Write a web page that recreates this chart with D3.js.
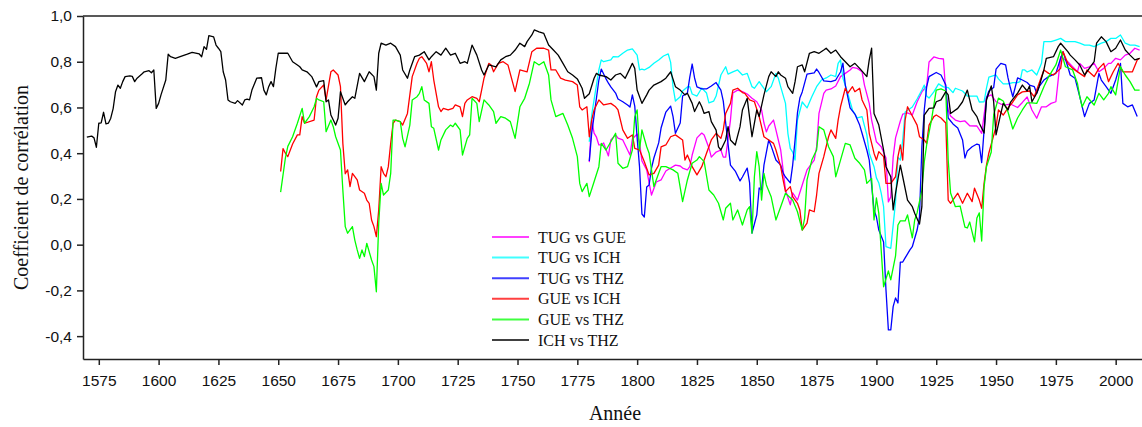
<!DOCTYPE html>
<html>
<head>
<meta charset="utf-8">
<script src="https://cdn.jsdelivr.net/npm/d3@7"></script>
<style>
  body { margin: 0; background: #fff; }
  svg { display: block; }
</style>
</head>
<body>
<svg id="chart" width="1142" height="427"></svg>
<script>
// tick values
const xTicks = [1575, 1600, 1625, 1650, 1675, 1700, 1725, 1750, 1775, 1800, 1825, 1850, 1875, 1900, 1925, 1950, 1975, 2000];
const yTicks = [-0.4, -0.2, 0.0, 0.2, 0.4, 0.6, 0.8, 1.0];

// series: [year, correlation]
const tugGue = [[1780,0.361],[1781,0.545],[1782,0.488],[1783,0.47],[1784,0.436],[1785,0.436],[1786,0.445],[1788,0.388],[1789,0.458],[1791,0.48],[1792,0.466],[1794,0.458],[1796,0.414],[1797,0.392],[1798,0.462],[1800,0.484],[1801,0.445],[1802,0.366],[1804,0.327],[1805,0.27],[1806,0.217],[1808,0.274],[1810,0.283],[1812,0.322],[1814,0.335],[1816,0.348],[1818,0.344],[1819,0.335],[1821,0.327],[1822,0.341],[1823,0.392],[1825,0.467],[1827,0.488],[1828,0.48],[1830,0.423],[1831,0.383],[1833,0.405],[1835,0.414],[1836,0.383],[1837,0.383],[1839,0.545],[1840,0.663],[1842,0.676],[1844,0.669],[1846,0.659],[1848,0.64],[1850,0.625],[1852,0.589],[1853,0.532],[1854,0.493],[1855,0.519],[1857,0.545],[1858,0.502],[1860,0.414],[1861,0.327],[1862,0.239],[1864,0.174],[1865,0.226],[1867,0.195],[1869,0.261],[1871,0.327],[1874,0.37],[1875,0.428],[1876,0.574],[1878,0.662],[1879,0.676],[1881,0.681],[1883,0.694],[1885,0.735],[1887,0.749],[1889,0.764],[1890,0.775],[1892,0.771],[1894,0.756],[1895,0.698],[1897,0.618],[1898,0.545],[1900,0.45],[1902,0.428],[1904,0.379],[1905,0.187],[1906,0.209],[1907,0.383],[1908,0.467],[1910,0.541],[1911,0.571],[1913,0.576],[1915,0.567],[1917,0.624],[1919,0.668],[1921,0.694],[1922,0.799],[1924,0.821],[1926,0.815],[1928,0.812],[1929,0.663],[1930,0.589],[1931,0.563],[1933,0.545],[1935,0.538],[1937,0.541],[1939,0.52],[1942,0.519],[1944,0.487],[1946,0.646],[1948,0.655],[1950,0.625],[1952,0.615],[1954,0.611],[1956,0.615],[1959,0.6],[1961,0.622],[1963,0.646],[1965,0.589],[1967,0.553],[1969,0.603],[1971,0.603],[1973,0.618],[1975,0.625],[1977,0.822],[1980,0.8],[1982,0.778],[1984,0.756],[1985,0.793],[1987,0.771],[1989,0.778],[1991,0.793],[1993,0.756],[1995,0.771],[1997,0.793],[1998,0.793],[2000,0.815],[2002,0.808],[2004,0.829],[2006,0.837],[2008,0.859],[2010,0.851]];

const tugIch = [[1780,0.45],[1781,0.567],[1782,0.633],[1784,0.764],[1785,0.808],[1786,0.8],[1789,0.808],[1790,0.822],[1792,0.821],[1794,0.837],[1796,0.851],[1798,0.856],[1800,0.829],[1801,0.764],[1802,0.768],[1803,0.764],[1805,0.775],[1807,0.793],[1809,0.808],[1811,0.825],[1813,0.834],[1814,0.797],[1815,0.69],[1816,0.628],[1818,0.647],[1819,0.672],[1821,0.69],[1822,0.691],[1823,0.659],[1825,0.65],[1827,0.685],[1829,0.663],[1830,0.62],[1832,0.628],[1833,0.65],[1835,0.742],[1837,0.778],[1838,0.746],[1840,0.756],[1842,0.764],[1844,0.742],[1846,0.749],[1848,0.691],[1849,0.684],[1851,0.713],[1852,0.698],[1854,0.669],[1856,0.691],[1858,0.749],[1859,0.728],[1860,0.69],[1862,0.618],[1863,0.487],[1864,0.421],[1865,0.405],[1866,0.37],[1867,0.545],[1869,0.624],[1871,0.598],[1873,0.647],[1875,0.691],[1877,0.72],[1879,0.729],[1881,0.742],[1883,0.735],[1884,0.793],[1885,0.808],[1886,0.729],[1888,0.663],[1890,0.589],[1892,0.554],[1894,0.56],[1896,0.48],[1897,0.4],[1899,0.341],[1900,0.292],[1901,0.27],[1902,0.225],[1903,0.166],[1904,-0.009],[1906,-0.016],[1908,0.187],[1909,0.383],[1910,0.37],[1911,0.458],[1912,0.58],[1915,0.602],[1917,0.637],[1919,0.676],[1920,0.698],[1921,0.65],[1922,0.641],[1924,0.668],[1926,0.703],[1928,0.69],[1930,0.687],[1932,0.665],[1933,0.684],[1936,0.672],[1938,0.65],[1940,0.65],[1942,0.65],[1943,0.624],[1945,0.625],[1946,0.685],[1947,0.733],[1950,0.742],[1951,0.725],[1953,0.703],[1955,0.703],[1957,0.709],[1959,0.709],[1960,0.713],[1961,0.764],[1962,0.764],[1963,0.755],[1965,0.764],[1967,0.742],[1969,0.793],[1970,0.888],[1973,0.888],[1975,0.895],[1977,0.902],[1979,0.888],[1981,0.888],[1983,0.888],[1985,0.881],[1987,0.873],[1989,0.873],[1991,0.866],[1994,0.881],[1996,0.888],[1998,0.902],[2000,0.902],[2002,0.917],[2004,0.881],[2006,0.873],[2008,0.873],[2010,0.866]];

const tugThz = [[1780,0.366],[1781,0.488],[1782,0.563],[1784,0.72],[1785,0.768],[1786,0.746],[1787,0.725],[1788,0.706],[1789,0.69],[1791,0.663],[1792,0.637],[1794,0.625],[1796,0.611],[1797,0.602],[1798,0.655],[1799,0.606],[1800,0.467],[1801,0.34],[1802,0.134],[1803,0.121],[1804,0.252],[1805,0.261],[1806,0.335],[1807,0.379],[1809,0.445],[1810,0.51],[1812,0.58],[1814,0.606],[1815,0.56],[1816,0.487],[1818,0.532],[1819,0.65],[1821,0.663],[1822,0.733],[1823,0.79],[1824,0.729],[1825,0.69],[1827,0.681],[1829,0.681],[1831,0.694],[1833,0.709],[1835,0.676],[1836,0.628],[1837,0.532],[1839,0.348],[1841,0.322],[1843,0.279],[1844,0.296],[1846,0.335],[1847,0.27],[1848,0.051],[1850,0.13],[1851,0.248],[1852,0.239],[1853,0.348],[1855,0.458],[1856,0.432],[1858,0.37],[1860,0.348],[1861,0.313],[1862,0.296],[1864,0.27],[1865,0.348],[1866,0.458],[1867,0.576],[1868,0.641],[1869,0.668],[1871,0.746],[1874,0.751],[1875,0.768],[1876,0.753],[1878,0.716],[1881,0.713],[1883,0.72],[1885,0.755],[1886,0.794],[1887,0.698],[1889,0.598],[1891,0.571],[1893,0.523],[1894,0.487],[1896,0.414],[1897,0.37],[1899,0.152],[1900,0.121],[1901,0.064],[1903,0.012],[1904,-0.198],[1905,-0.373],[1906,-0.373],[1907,-0.271],[1908,-0.233],[1909,-0.255],[1910,-0.076],[1911,-0.076],[1912,-0.058],[1914,-0.023],[1915,-0.009],[1917,0.064],[1918,0.122],[1919,0.428],[1920,0.589],[1921,0.69],[1922,0.735],[1925,0.753],[1927,0.742],[1929,0.698],[1930,0.554],[1932,0.528],[1934,0.51],[1936,0.458],[1937,0.379],[1938,0.41],[1940,0.428],[1942,0.44],[1943,0.436],[1944,0.359],[1946,0.641],[1947,0.672],[1949,0.687],[1950,0.768],[1952,0.793],[1954,0.786],[1955,0.729],[1956,0.685],[1957,0.647],[1959,0.729],[1961,0.72],[1963,0.709],[1964,0.698],[1966,0.691],[1967,0.662],[1968,0.691],[1970,0.72],[1972,0.735],[1975,0.749],[1977,0.815],[1978,0.844],[1980,0.778],[1981,0.742],[1983,0.728],[1985,0.647],[1987,0.56],[1989,0.618],[1991,0.633],[1993,0.749],[1994,0.72],[1996,0.691],[1998,0.662],[2000,0.72],[2002,0.793],[2003,0.618],[2005,0.603],[2007,0.611],[2009,0.56]];

const gueIch = [[1651,0.32],[1652,0.42],[1653,0.40],[1654,0.385],[1656,0.44],[1658,0.48],[1659,0.48],[1660,0.56],[1661,0.531],[1665,0.545],[1666,0.647],[1667,0.676],[1669,0.698],[1670,0.633],[1672,0.756],[1673,0.764],[1675,0.742],[1676,0.691],[1677,0.443],[1678,0.31],[1679,0.327],[1680,0.254],[1681,0.312],[1683,0.283],[1684,0.239],[1686,0.225],[1687,0.195],[1688,0.181],[1689,0.108],[1690,0.079],[1691,0.035],[1692,0.152],[1693,0.341],[1694,0.312],[1695,0.297],[1696,0.341],[1697,0.443],[1698,0.531],[1699,0.545],[1701,0.538],[1702,0.523],[1704,0.574],[1705,0.655],[1706,0.735],[1708,0.793],[1709,0.815],[1710,0.822],[1712,0.793],[1713,0.756],[1714,0.8],[1715,0.72],[1717,0.603],[1718,0.582],[1719,0.596],[1721,0.589],[1723,0.596],[1724,0.611],[1726,0.603],[1727,0.56],[1728,0.618],[1729,0.633],[1731,0.647],[1733,0.64],[1734,0.625],[1735,0.676],[1736,0.728],[1738,0.793],[1739,0.786],[1740,0.756],[1742,0.793],[1744,0.8],[1746,0.786],[1749,0.669],[1751,0.764],[1754,0.756],[1756,0.844],[1758,0.859],[1761,0.859],[1763,0.851],[1764,0.764],[1766,0.764],[1768,0.728],[1770,0.72],[1773,0.713],[1775,0.698],[1776,0.603],[1777,0.589],[1779,0.603],[1780,0.472],[1781,0.545],[1782,0.589],[1784,0.633],[1786,0.611],[1789,0.618],[1791,0.603],[1792,0.589],[1794,0.502],[1796,0.465],[1798,0.48],[1799,0.421],[1801,0.414],[1803,0.363],[1805,0.305],[1807,0.312],[1809,0.348],[1810,0.428],[1812,0.436],[1814,0.472],[1816,0.48],[1819,0.458],[1820,0.37],[1821,0.392],[1823,0.341],[1825,0.305],[1827,0.341],[1829,0.4],[1831,0.458],[1833,0.487],[1835,0.465],[1836,0.502],[1837,0.574],[1839,0.618],[1840,0.676],[1842,0.684],[1844,0.665],[1845,0.662],[1847,0.633],[1849,0.625],[1851,0.56],[1852,0.516],[1853,0.472],[1855,0.458],[1857,0.443],[1858,0.414],[1860,0.341],[1861,0.283],[1862,0.232],[1864,0.254],[1865,0.21],[1867,0.181],[1868,0.152],[1869,0.064],[1871,0.094],[1872,0.152],[1874,0.144],[1875,0.217],[1876,0.312],[1878,0.385],[1880,0.472],[1881,0.502],[1883,0.465],[1884,0.545],[1885,0.603],[1887,0.684],[1888,0.662],[1890,0.691],[1891,0.669],[1893,0.684],[1894,0.633],[1896,0.589],[1897,0.487],[1899,0.4],[1900,0.37],[1901,0.407],[1903,0.385],[1904,0.268],[1906,0.268],[1908,0.297],[1909,0.385],[1910,0.436],[1911,0.37],[1912,0.545],[1913,0.603],[1915,0.563],[1917,0.523],[1918,0.472],[1920,0.458],[1921,0.443],[1922,0.523],[1924,0.56],[1925,0.567],[1927,0.554],[1929,0.532],[1930,0.195],[1931,0.181],[1934,0.225],[1936,0.181],[1938,0.225],[1940,0.188],[1941,0.247],[1943,0.195],[1944,0.159],[1945,0.268],[1946,0.348],[1947,0.401],[1950,0.516],[1951,0.589],[1953,0.567],[1955,0.598],[1957,0.624],[1959,0.655],[1961,0.668],[1964,0.672],[1966,0.647],[1968,0.706],[1970,0.764],[1972,0.749],[1974,0.742],[1977,0.771],[1978,0.844],[1980,0.793],[1982,0.771],[1985,0.749],[1987,0.735],[1988,0.764],[1991,0.735],[1993,0.771],[1995,0.793],[1997,0.713],[1999,0.756],[2001,0.793],[2003,0.756],[2005,0.756],[2007,0.756],[2009,0.808],[2010,0.815]];

const gueThz = [[1651,0.23],[1653,0.38],[1654,0.43],[1656,0.472],[1658,0.531],[1660,0.596],[1661,0.531],[1663,0.56],[1665,0.603],[1666,0.64],[1667,0.633],[1669,0.625],[1670,0.494],[1672,0.545],[1673,0.516],[1674,0.472],[1676,0.414],[1677,0.239],[1678,0.079],[1679,0.05],[1681,0.079],[1682,0.02],[1683,-0.023],[1684,-0.06],[1685,-0.023],[1686,-0.052],[1687,0.006],[1689,-0.067],[1690,-0.096],[1691,-0.206],[1692,0.094],[1693,0.268],[1694,0.217],[1696,0.239],[1697,0.312],[1698,0.545],[1699,0.545],[1701,0.538],[1702,0.465],[1703,0.428],[1705,0.523],[1706,0.633],[1708,0.647],[1709,0.662],[1710,0.691],[1711,0.633],[1713,0.618],[1714,0.516],[1715,0.509],[1717,0.414],[1718,0.458],[1720,0.502],[1722,0.523],[1723,0.516],[1724,0.531],[1726,0.502],[1727,0.392],[1729,0.465],[1730,0.48],[1731,0.64],[1733,0.618],[1734,0.538],[1736,0.633],[1738,0.611],[1740,0.582],[1741,0.531],[1743,0.56],[1745,0.553],[1747,0.538],[1749,0.465],[1751,0.603],[1753,0.64],[1755,0.706],[1757,0.8],[1759,0.786],[1761,0.8],[1763,0.742],[1764,0.633],[1766,0.56],[1769,0.574],[1771,0.523],[1773,0.465],[1775,0.385],[1776,0.268],[1777,0.232],[1779,0.268],[1780,0.21],[1782,0.275],[1784,0.341],[1785,0.443],[1787,0.414],[1789,0.45],[1791,0.487],[1792,0.356],[1794,0.334],[1796,0.341],[1798,0.414],[1799,0.56],[1800,0.589],[1801,0.414],[1802,0.502],[1804,0.428],[1805,0.4],[1807,0.254],[1809,0.312],[1810,0.341],[1812,0.341],[1815,0.327],[1817,0.312],[1819,0.188],[1821,0.283],[1823,0.356],[1825,0.37],[1826,0.385],[1828,0.363],[1830,0.239],[1832,0.217],[1834,0.181],[1836,0.108],[1837,0.159],[1839,0.181],[1840,0.108],[1842,0.152],[1844,0.086],[1846,0.152],[1847,0.166],[1848,0.05],[1849,0.297],[1850,0.407],[1851,0.341],[1852,0.195],[1853,0.312],[1854,0.261],[1856,0.21],[1858,0.108],[1860,0.166],[1862,0.225],[1865,0.195],[1867,0.144],[1869,0.064],[1870,0.115],[1871,0.283],[1873,0.37],[1875,0.414],[1876,0.516],[1878,0.502],[1880,0.428],[1882,0.385],[1883,0.297],[1885,0.37],[1887,0.443],[1889,0.436],[1891,0.378],[1893,0.356],[1895,0.327],[1896,0.268],[1898,0.29],[1899,0.108],[1900,0.204],[1901,0.137],[1903,-0.184],[1905,-0.115],[1906,-0.154],[1908,-0.049],[1909,0.086],[1910,0.104],[1912,0.104],[1913,0.13],[1915,0.03],[1916,0.108],[1917,0.139],[1919,0.239],[1920,0.362],[1921,0.436],[1923,0.545],[1925,0.676],[1927,0.681],[1929,0.672],[1930,0.37],[1931,0.226],[1933,0.166],[1935,0.169],[1937,0.077],[1938,0.073],[1939,0.099],[1941,0.012],[1942,0.117],[1943,0.139],[1944,0.016],[1945,0.252],[1946,0.341],[1948,0.405],[1949,0.567],[1951,0.641],[1953,0.628],[1955,0.58],[1957,0.506],[1959,0.554],[1961,0.589],[1963,0.62],[1965,0.62],[1967,0.618],[1968,0.64],[1970,0.691],[1972,0.735],[1975,0.786],[1977,0.851],[1979,0.778],[1982,0.764],[1984,0.706],[1985,0.647],[1986,0.603],[1988,0.647],[1991,0.611],[1993,0.662],[1995,0.633],[1997,0.662],[1998,0.691],[2000,0.655],[2002,0.778],[2004,0.742],[2006,0.713],[2008,0.676],[2010,0.676]];

const ichThz = [[1570,0.47],[1572,0.475],[1573,0.467],[1574,0.426],[1575,0.531],[1576,0.533],[1577,0.579],[1578,0.528],[1579,0.531],[1580,0.553],[1581,0.595],[1582,0.669],[1583,0.698],[1584,0.684],[1585,0.713],[1586,0.735],[1588,0.738],[1589,0.736],[1590,0.713],[1591,0.728],[1593,0.746],[1594,0.756],[1596,0.761],[1597,0.752],[1598,0.764],[1599,0.596],[1600,0.618],[1601,0.655],[1603,0.72],[1604,0.833],[1605,0.822],[1607,0.815],[1609,0.822],[1612,0.833],[1614,0.841],[1617,0.834],[1618,0.822],[1619,0.866],[1620,0.854],[1621,0.914],[1623,0.909],[1624,0.873],[1625,0.859],[1626,0.844],[1627,0.756],[1628,0.72],[1629,0.633],[1630,0.625],[1632,0.618],[1633,0.63],[1635,0.611],[1636,0.633],[1637,0.636],[1638,0.633],[1639,0.676],[1641,0.728],[1643,0.73],[1644,0.676],[1645,0.655],[1646,0.691],[1647,0.713],[1648,0.691],[1649,0.771],[1650,0.837],[1652,0.837],[1654,0.837],[1656,0.8],[1658,0.786],[1659,0.778],[1660,0.764],[1662,0.756],[1664,0.735],[1666,0.69],[1667,0.713],[1669,0.717],[1670,0.625],[1671,0.633],[1672,0.567],[1674,0.523],[1675,0.553],[1676,0.669],[1678,0.611],[1679,0.625],[1681,0.647],[1682,0.64],[1684,0.749],[1686,0.713],[1688,0.756],[1690,0.735],[1691,0.676],[1692,0.837],[1693,0.881],[1695,0.873],[1697,0.881],[1699,0.866],[1701,0.829],[1702,0.764],[1704,0.728],[1705,0.764],[1707,0.822],[1709,0.829],[1711,0.844],[1713,0.808],[1714,0.822],[1716,0.844],[1718,0.829],[1720,0.859],[1722,0.829],[1724,0.837],[1726,0.793],[1728,0.8],[1729,0.793],[1731,0.873],[1733,0.829],[1735,0.764],[1736,0.742],[1738,0.786],[1741,0.778],[1743,0.808],[1745,0.822],[1747,0.829],[1749,0.851],[1751,0.881],[1753,0.866],[1754,0.888],[1756,0.917],[1757,0.939],[1759,0.931],[1761,0.924],[1763,0.873],[1765,0.851],[1767,0.829],[1769,0.793],[1771,0.756],[1773,0.742],[1775,0.725],[1777,0.684],[1778,0.64],[1780,0.66],[1782,0.728],[1783,0.749],[1784,0.742],[1787,0.735],[1789,0.72],[1791,0.742],[1793,0.749],[1795,0.728],[1797,0.771],[1798,0.793],[1799,0.771],[1800,0.676],[1802,0.618],[1804,0.655],[1805,0.676],[1807,0.698],[1810,0.713],[1812,0.728],[1813,0.742],[1814,0.756],[1816,0.691],[1818,0.676],[1820,0.655],[1821,0.662],[1823,0.618],[1824,0.582],[1826,0.625],[1827,0.603],[1828,0.574],[1830,0.582],[1831,0.538],[1833,0.501],[1834,0.428],[1835,0.414],[1837,0.458],[1838,0.516],[1839,0.458],[1841,0.436],[1843,0.516],[1844,0.589],[1846,0.64],[1848,0.472],[1850,0.589],[1851,0.56],[1853,0.655],[1855,0.735],[1856,0.756],[1858,0.735],[1859,0.756],[1860,0.742],[1862,0.728],[1863,0.691],[1865,0.662],[1866,0.713],[1867,0.778],[1869,0.786],[1870,0.756],[1872,0.837],[1874,0.844],[1876,0.837],[1878,0.851],[1879,0.859],[1881,0.837],[1883,0.851],[1885,0.822],[1887,0.8],[1889,0.778],[1891,0.793],[1893,0.771],[1896,0.735],[1897,0.808],[1898,0.859],[1899,0.574],[1901,0.523],[1903,0.414],[1904,0.341],[1906,0.297],[1907,0.152],[1908,0.225],[1910,0.348],[1911,0.297],[1913,0.195],[1915,0.166],[1916,0.137],[1918,0.09],[1919,0.166],[1920,0.567],[1922,0.596],[1924,0.598],[1925,0.625],[1927,0.633],[1929,0.669],[1930,0.655],[1931,0.574],[1934,0.596],[1936,0.625],[1938,0.676],[1940,0.589],[1942,0.56],[1943,0.531],[1945,0.488],[1946,0.633],[1948,0.694],[1949,0.625],[1950,0.48],[1952,0.574],[1953,0.618],[1955,0.589],[1956,0.622],[1959,0.663],[1961,0.698],[1963,0.672],[1964,0.694],[1965,0.625],[1967,0.662],[1968,0.691],[1970,0.764],[1971,0.815],[1974,0.822],[1976,0.866],[1977,0.881],[1980,0.844],[1981,0.829],[1983,0.808],[1985,0.786],[1987,0.742],[1989,0.771],[1991,0.8],[1992,0.881],[1994,0.909],[1996,0.888],[1998,0.844],[2000,0.859],[2002,0.895],[2004,0.851],[2006,0.829],[2008,0.808],[2010,0.815]];

const seriesNames = ["TUG vs GUE", "TUG vs ICH", "TUG vs THZ", "GUE vs ICH", "GUE vs THZ", "ICH vs THZ"];
const seriesColors = ["#ff00ff", "#00ffff", "#0000ff", "#ff0000", "#00ff00", "#000000"];
const seriesData = [tugGue, tugIch, tugThz, gueIch, gueThz, ichThz];

const svg = d3.select("#chart");
const plotLeft = 83, plotRight = 1142, plotTop = 16, plotBottom = 359;

const x = d3.scaleLinear().domain([1568.4, 2011]).range([plotLeft, plotRight]);
const y = d3.scaleLinear().domain([-0.5, 1.0]).range([plotBottom, plotTop]);

svg.append("defs").append("clipPath").attr("id", "plot")
  .append("rect").attr("x", plotLeft).attr("y", plotTop)
  .attr("width", plotRight - plotLeft).attr("height", plotBottom - plotTop);

// lines
const line = d3.line().x(d => x(d[0])).y(d => y(d[1]));
svg.append("g").attr("clip-path", "url(#plot)")
  .selectAll("path")
  .data(seriesData)
  .join("path")
  .attr("d", line)
  .attr("fill", "none")
  .attr("stroke", (d, i) => seriesColors[i])
  .attr("stroke-width", 1.3)
  .attr("stroke-linejoin", "round");

// axes
const xAxis = svg.append("g")
  .attr("transform", `translate(0,${plotBottom})`)
  .call(d3.axisBottom(x).tickValues(xTicks).tickFormat(d3.format("d")).tickSize(6).tickSizeOuter(0).tickPadding(10));
const yAxis = svg.append("g")
  .attr("transform", `translate(${plotLeft},0)`)
  .call(d3.axisLeft(y).tickValues(yTicks).tickFormat(d => d.toFixed(1).replace(".", ",")).tickSize(6).tickSizeOuter(0).tickPadding(5));

[xAxis, yAxis].forEach(g => {
  g.selectAll("path, line").attr("stroke", "#222").attr("stroke-width", 1.5);
  g.selectAll("text").attr("font-family", "'Liberation Sans', Arial, sans-serif").attr("font-size", 15.5).attr("fill", "#111");
});

// top frame line
svg.append("line")
  .attr("x1", plotLeft).attr("x2", plotRight).attr("y1", plotTop).attr("y2", plotTop)
  .attr("stroke", "#222").attr("stroke-width", 1.5);

// axis titles
svg.append("text")
  .attr("transform", `translate(28,${(plotTop + plotBottom) / 2}) rotate(-90)`)
  .attr("text-anchor", "middle")
  .attr("font-family", "'Liberation Serif', 'Times New Roman', serif")
  .attr("font-size", 20)
  .attr("fill", "#111")
  .text("Coefficient de corrélation");

svg.append("text")
  .attr("x", 615).attr("y", 420)
  .attr("text-anchor", "middle")
  .attr("font-family", "'Liberation Serif', 'Times New Roman', serif")
  .attr("font-size", 20)
  .attr("fill", "#111")
  .text("Année");

// legend
const legend = svg.append("g").attr("transform", "translate(492,237)");
const rows = legend.selectAll("g")
  .data(seriesNames)
  .join("g")
  .attr("transform", (d, i) => `translate(0,${i * 20.6})`);
rows.append("line")
  .attr("x1", 0).attr("x2", 37)
  .attr("stroke", (d, i) => seriesColors[i])
  .attr("stroke-width", 2)
  .attr("stroke-opacity", 0.75);
rows.append("text")
  .attr("x", 46).attr("y", 5.5)
  .attr("font-family", "'Liberation Serif', 'Times New Roman', serif")
  .attr("font-size", 16)
  .attr("fill", "#111")
  .text(d => d);
</script>
</body>
</html>
